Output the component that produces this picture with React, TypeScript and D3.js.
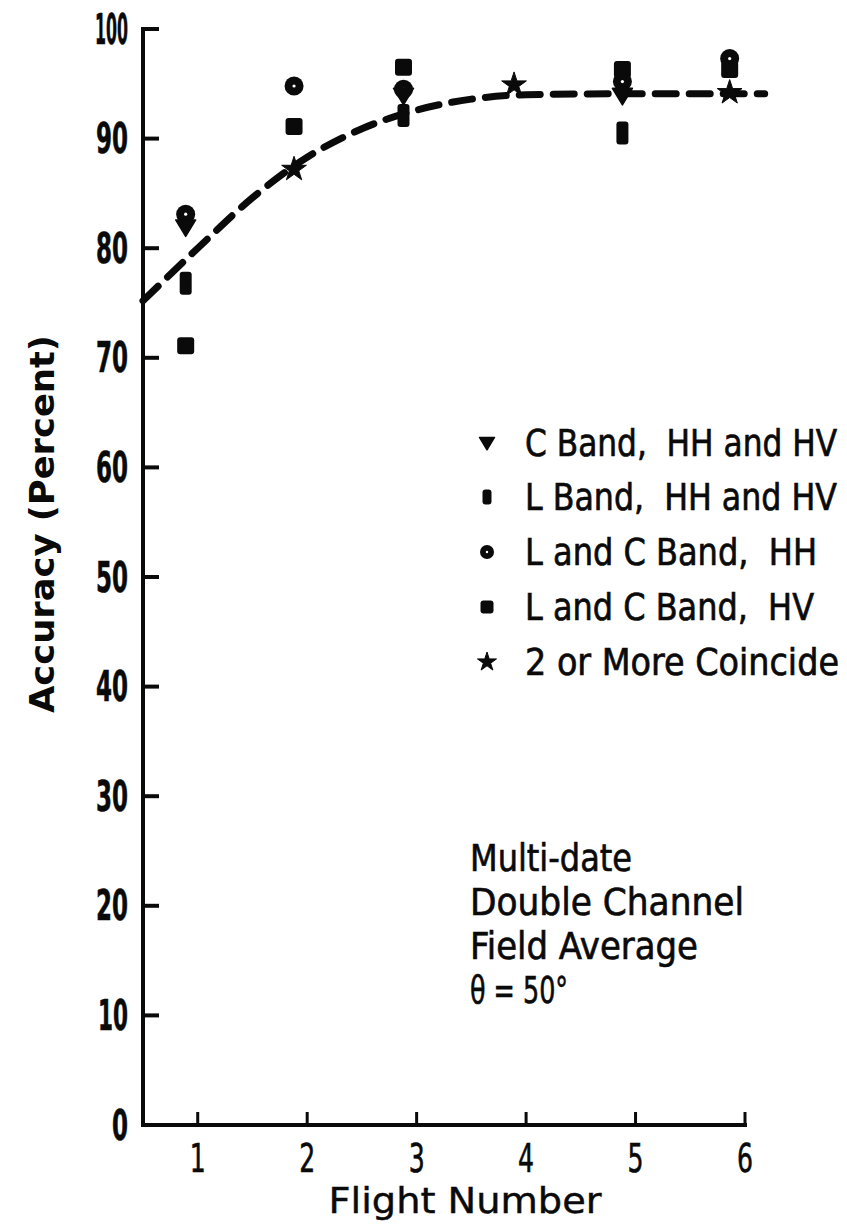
import React from "react";
import * as d3 from "d3";

// Flight positions as plotted (markers sit slightly left of each tick)
const flightPos = [0.89, 1.88, 2.88, 3.89, 4.88, 5.86];

// Series: index into flightPos + accuracy value
const cBandFlights = [0, 2, 4];
const cBandValues = [81.9, 93.9, 93.9];
const lBandFlights = [0, 2, 4];
const lBandValues = [76.8, 92.1, 90.5];
const lcHHFlights = [0, 1, 2, 4, 5];
const lcHHValues = [83.1, 94.8, 94.5, 95.2, 97.3];
const lcHVFlights = [0, 1, 2, 4, 5];
const lcHVValues = [71.1, 91.1, 96.5, 96.3, 96.3];
const coincideFlights = [1, 3, 5];
const coincideValues = [87.2, 94.9, 94.2];

// Fitted trend curve
const trendX = [0.5, 1.0, 1.5, 2.0, 2.5, 3.0, 3.5, 4.0, 5.0, 6.18];
const trendY = [75.2, 80.0, 84.6, 88.3, 90.9, 92.6, 93.6, 94.0, 94.1, 94.1];

const yTicks = [0, 10, 20, 30, 40, 50, 60, 70, 80, 90, 100];
const xTicks = [1, 2, 3, 4, 5, 6];

const NB = "\u00A0";
const legendLabels = [
  `C Band,${NB} HH and HV`,
  `L Band,${NB} HH and HV`,
  `L and C Band,${NB} HH`,
  `L and C Band,${NB} HV`,
  "2 or More Coincide",
];
const legendWidths = [312, 312, 292, 289, 314];

const noteLines = ["Multi-date", "Double Channel", "Field Average", "θ = 50°"];
const noteWidths = [162, 274, 228, 98];

const W = 847;
const H = 1229;
const INK = "#0a0a0a";
const FONT = "'Liberation Sans Narrow', 'DejaVu Sans Condensed', sans-serif";

const x = d3.scaleLinear().domain([0.5, 6]).range([143, 745]);
const y = d3.scaleLinear().domain([0, 100]).range([1125, 29]);

// narrow numeral widths for the axis labels
const numWidth = (t: number) => (t === 0 ? 16 : t === 10 ? 30 : t === 100 ? 33 : 32);

const starPath = (r: number) =>
  d3.symbol().type(d3.symbolStar).size((r * r) / 0.8908130915292852)()!;

const Triangle = ({ cx, cy, s }: { cx: number; cy: number; s: number }) => (
  <path
    transform={`translate(${cx},${cy})`}
    d={`M${-s},${-s * 0.75}L${s},${-s * 0.75}L0,${s * 0.9}Z`}
    fill={INK}
    stroke={INK}
    strokeWidth={1.5}
    strokeLinejoin="round"
  />
);

const TallRect = ({ cx, cy, w, h }: { cx: number; cy: number; w: number; h: number }) => (
  <rect x={cx - w / 2} y={cy - h / 2} width={w} height={h} rx={3} fill={INK} />
);

const DotCircle = ({ cx, cy, r }: { cx: number; cy: number; r: number }) => (
  <g>
    <circle cx={cx} cy={cy} r={r} fill={INK} />
    <circle cx={cx} cy={cy} r={r * 0.17} fill="#fff" />
  </g>
);

const Square = ({ cx, cy, s }: { cx: number; cy: number; s: number }) => (
  <rect x={cx - s / 2} y={cy - s / 2} width={s} height={s} rx={3} fill={INK} />
);

const Star = ({ cx, cy, r }: { cx: number; cy: number; r: number }) => (
  <path transform={`translate(${cx},${cy})`} d={starPath(r)} fill={INK} stroke={INK} strokeWidth={1} strokeLinejoin="round" />
);

export default function App() {
  const trend = d3
    .line<number>()
    .x((_, i) => x(trendX[i]))
    .y((d) => y(d))
    .curve(d3.curveMonotoneX)(trendY)!;

  const legendY = [443, 497, 552, 607, 662];
  const legendX = 487;

  return (
    <svg
      width={W}
      height={H}
      style={{ display: "block", position: "absolute", left: 0, top: 0, background: "#fff" }}
    >
      <rect width={W} height={H} fill="#fff" />

      {/* axes */}
      <line x1={x(0.5)} y1={y(100)} x2={x(0.5)} y2={y(0)} stroke={INK} strokeWidth={4} strokeLinecap="square" />
      <line x1={x(0.5)} y1={y(0)} x2={x(6)} y2={y(0)} stroke={INK} strokeWidth={4} strokeLinecap="square" />
      {yTicks.map((t) => (
        <g key={`yt${t}`}>
          <line x1={x(0.5)} x2={x(0.5) + 16} y1={y(t)} y2={y(t)} stroke={INK} strokeWidth={4} />
          <text
            x={x(0.5) - 15}
            y={y(t)}
            textAnchor="end"
            dominantBaseline="central"
            fontFamily={FONT}
            fontWeight="bold"
            fontSize={42}
            textLength={numWidth(t)}
            lengthAdjust="spacingAndGlyphs"
            stroke={INK}
            strokeWidth={0.6}
            fill={INK}
          >
            {t}
          </text>
        </g>
      ))}
      {xTicks.map((t) => (
        <g key={`xt${t}`}>
          <line x1={x(t)} x2={x(t)} y1={y(0)} y2={y(0) - 13} stroke={INK} strokeWidth={3} />
          <text
            x={x(t)}
            y={y(0) + 33}
            textAnchor="middle"
            dominantBaseline="central"
            fontFamily={FONT}
            fontSize={39}
            textLength={16}
            lengthAdjust="spacingAndGlyphs"
            stroke={INK}
            strokeWidth={0.6}
            fill={INK}
          >
            {t}
          </text>
        </g>
      ))}

      {/* axis titles */}
      <text
        transform={`translate(42,524) rotate(-90)`}
        textAnchor="middle"
        dominantBaseline="central"
        fontFamily={FONT}
        fontWeight="bold"
        fontSize={33}
        textLength={378}
        lengthAdjust="spacingAndGlyphs"
        fill={INK}
      >
        Accuracy (Percent)
      </text>
      <text
        x={465}
        y={1200}
        textAnchor="middle"
        dominantBaseline="central"
        fontFamily={FONT}
        fontSize={36}
        textLength={273}
        lengthAdjust="spacingAndGlyphs"
        stroke={INK}
        strokeWidth={0.4}
        fill={INK}
      >
        Flight Number
      </text>

      {/* trend curve */}
      <path d={trend} fill="none" stroke={INK} strokeWidth={7} strokeDasharray="21 13" strokeLinecap="round" />

      {/* data markers */}
      {lcHVFlights.map((f, i) => (
        <Square key={`sq${i}`} cx={x(flightPos[f])} cy={y(lcHVValues[i])} s={17} />
      ))}
      {lBandFlights.map((f, i) => (
        <TallRect key={`lr${i}`} cx={x(flightPos[f])} cy={y(lBandValues[i])} w={12} h={23} />
      ))}
      {lcHHFlights.map((f, i) => (
        <DotCircle key={`ci${i}`} cx={x(flightPos[f])} cy={y(lcHHValues[i])} r={9.5} />
      ))}
      {cBandFlights.map((f, i) => (
        <Triangle key={`tr${i}`} cx={x(flightPos[f])} cy={y(cBandValues[i])} s={10} />
      ))}
      {coincideFlights.map((f, i) => (
        <Star key={`st${i}`} cx={x(flightPos[f])} cy={y(coincideValues[i])} r={13} />
      ))}

      {/* legend */}
      <Triangle cx={legendX} cy={legendY[0]} s={7.5} />
      <TallRect cx={legendX} cy={legendY[1]} w={9} h={15} />
      <DotCircle cx={legendX} cy={legendY[2]} r={7} />
      <Square cx={legendX} cy={legendY[3]} s={13} />
      <Star cx={legendX} cy={legendY[4]} r={10} />
      {legendLabels.map((l, i) => (
        <text
          key={`lg${i}`}
          transform={`translate(525,${legendY[i]}) scale(1,1.18)`}
          x={0}
          y={0}
          dominantBaseline="central"
          fontFamily={FONT}
          fontSize={32}
          textLength={legendWidths[i]}
          lengthAdjust="spacingAndGlyphs"
          stroke={INK}
          strokeWidth={0.55}
          fill={INK}
        >
          {l}
        </text>
      ))}

      {/* annotation */}
      {noteLines.map((l, i) => (
        <text
          key={`nt${i}`}
          x={470}
          y={858 + i * 44}
          dominantBaseline="central"
          fontFamily={FONT}
          fontSize={37}
          textLength={noteWidths[i]}
          lengthAdjust="spacingAndGlyphs"
          stroke={INK}
          strokeWidth={0.6}
          fill={INK}
        >
          {l}
        </text>
      ))}
    </svg>
  );
}
